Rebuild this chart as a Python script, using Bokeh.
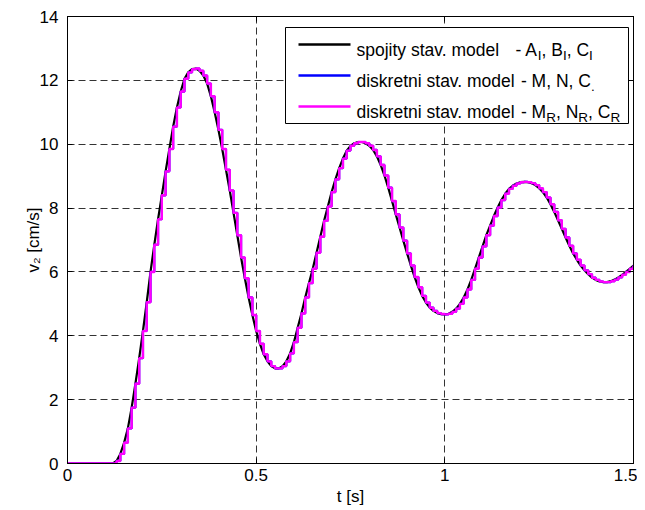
from bokeh.plotting import figure
from bokeh.models import LinearAxis, FixedTicker, BoxAnnotation, Arrow, Label, Range1d
from bokeh.embed import file_html
from bokeh.resources import INLINE

# ---------------- data ----------------
v2 = [0, 0, 0, 0, 0, 0, 0, 0, 0, 0, 0, 0, 0,
      0.08, 0.3, 0.65, 1.1, 1.75, 2.5, 3.3, 4.15, 5.05, 6.0,
      6.85, 7.65, 8.4, 9.15, 9.85, 10.55, 11.15, 11.65, 12.05, 12.25,
      12.35, 12.37, 12.3, 12.15, 11.9, 11.5, 11.0, 10.45, 9.85, 9.2,
      8.55, 7.85, 7.15, 6.45, 5.8, 5.2, 4.65, 4.15, 3.75, 3.42,
      3.2, 3.05, 2.98, 2.98, 3.05, 3.2, 3.45, 3.8, 4.25, 4.7,
      5.2, 5.65, 6.1, 6.6, 7.1, 7.6, 8.05, 8.5, 8.9, 9.25,
      9.55, 9.8, 9.95, 10.03, 10.07, 10.07, 10.03, 9.95, 9.82, 9.62,
      9.35, 9.02, 8.64, 8.22, 7.8, 7.39, 6.98, 6.58, 6.2, 5.84,
      5.52, 5.25, 5.04, 4.88, 4.78, 4.71, 4.68, 4.67, 4.69, 4.75,
      4.85, 5.0, 5.2, 5.45, 5.75, 6.1, 6.45, 6.8, 7.15, 7.45,
      7.75, 8.02, 8.25, 8.45, 8.6, 8.7, 8.77, 8.81, 8.82, 8.81,
      8.78, 8.72, 8.62, 8.5, 8.33, 8.12, 7.88, 7.62, 7.35, 7.08,
      6.82, 6.58, 6.38, 6.2, 6.05, 5.93, 5.82, 5.75, 5.7, 5.68,
      5.68, 5.71, 5.76, 5.83, 5.91, 6.0, 6.1, 6.2]
sample_period = 0.01
t = [round(i * sample_period, 2) for i in range(len(v2))]

x_ticks = [0, 0.5, 1, 1.5]
x_tick_labels = ["0", "0.5", "1", "1.5"]
y_ticks = [0, 2, 4, 6, 8, 10, 12, 14]
y_tick_labels = ["0", "2", "4", "6", "8", "10", "12", "14"]

series_names = ["spojity stav. model", "diskretni stav. model", "diskretni stav. model"]
series_colors = ["#000000", "#0000ff", "#ff00ff"]

# ---------------- figure ----------------
FW, FH = 566, 447
X0, X1, Y0, Y1 = 0, 1.5, 0, 14
FONT = "Liberation Sans"
FS = 17

p = figure(frame_width=FW, frame_height=FH, x_range=Range1d(X0, X1), y_range=Range1d(Y0, Y1),
           output_backend="svg", toolbar_location=None,
           min_border_left=67, min_border_right=4, min_border_top=16, min_border_bottom=38)
p.background_fill_color = "white"
p.border_fill_color = "white"
p.outline_line_color = "black"
p.outline_line_width = 1

for ax, ticks, labels in ((p.xaxis[0], x_ticks, x_tick_labels), (p.yaxis[0], y_ticks, y_tick_labels)):
    ax.ticker = FixedTicker(ticks=ticks)
    ax.major_label_overrides = {tk: lb for tk, lb in zip(ticks, labels)}
    ax.major_tick_in = 5
    ax.major_tick_out = 0
    ax.minor_tick_in = 0
    ax.minor_tick_out = 0
    ax.axis_line_color = "black"
    ax.major_tick_line_color = "black"
    ax.major_label_text_font = FONT
    ax.major_label_text_font_size = f"{FS}px"
    ax.major_label_text_color = "black"
    ax.axis_label_text_font = FONT
    ax.axis_label_text_font_size = f"{FS}px"
    ax.axis_label_text_font_style = "normal"
    ax.axis_label_text_color = "black"

p.xaxis[0].axis_label = "t [s]"
p.xaxis[0].major_label_standoff = 5
p.xaxis[0].axis_label_standoff = 3
p.yaxis[0].axis_label = "v\u2082 [cm/s]"
p.yaxis[0].major_label_standoff = 9
p.yaxis[0].axis_label_standoff = -6

for loc, ticks in (("above", x_ticks), ("right", y_ticks)):
    ax = LinearAxis(ticker=FixedTicker(ticks=ticks), major_label_text_font_size="0px",
                    major_label_standoff=0, major_tick_in=5, major_tick_out=0,
                    minor_tick_in=0, minor_tick_out=0, axis_line_color="black",
                    major_label_overrides={tk: "" for tk in ticks})
    p.add_layout(ax, loc)

p.xgrid.ticker = FixedTicker(ticks=x_ticks)
p.ygrid.ticker = FixedTicker(ticks=y_ticks)
for g in (p.xgrid[0], p.ygrid[0]):
    g.grid_line_color = "black"
    g.grid_line_alpha = 0.8
    g.grid_line_dash = "7 4"
    g.grid_line_width = 1

# ---------------- series ----------------
p.line(t, v2, line_color=series_colors[0], line_width=2.2)
p.step(t, v2, mode="after", line_color=series_colors[1], line_width=2.2)
p.step(t, v2, mode="after", line_color=series_colors[2], line_width=2.4)

# ---------------- manual legend (subscripts) ----------------
def dx(px):
    return px * (X1 - X0) / FW

def xd(px):  # reference-image x pixel -> data
    return X0 + dx(px - 67)

def yd(py):  # reference-image y pixel -> data
    return Y0 + (464 - py) * (Y1 - Y0) / FH

ARIAL = {' ': 278, ',': 278, '-': 333, '.': 278, 'A': 667, 'B': 667, 'C': 722, 'I': 278,
         'M': 833, 'N': 722, 'R': 722, 'a': 556, 'd': 556, 'e': 556, 'i': 222, 'j': 222,
         'k': 500, 'l': 222, 'm': 833, 'n': 556, 'o': 556, 'p': 556, 'r': 333, 's': 500,
         't': 278, 'v': 500, 'y': 500}

def width(s, size):
    return sum(ARIAL.get(c, 556) for c in s) * size / 1000.0

LFS = 17.5
SFS = 13.5
p.add_layout(BoxAnnotation(left=xd(285), right=xd(628), top=yd(28), bottom=yd(124),
                           fill_color="white", fill_alpha=1, line_color="black", line_width=1,
                           line_alpha=1))

rows = [
    (45, [(series_names[0], False, 0), ("- A", False, 15), ("I", True, 0), (", B", False, 0),
          ("I", True, 0), (", C", False, 0), ("I", True, 0)]),
    (76, [(series_names[1], False, 0), ("- M, N, C", False, 4.9), (".", True, 0)]),
    (107, [(series_names[2], False, 0), ("- M", False, 4.9), ("R", True, 0), (", N", False, 0),
           ("R", True, 0), (", C", False, 0), ("R", True, 0)]),
]
for (ry, pieces), col in zip(rows, series_colors):
    p.add_layout(Arrow(end=None, x_start=xd(298), y_start=yd(ry), x_end=xd(350), y_end=yd(ry),
                       line_color=col, line_width=2.4))
    cx = 356.0
    for txt, sub, gap in pieces:
        cx += gap
        size = SFS if sub else LFS
        base = ry + 5.5 + (5 if sub else 0)
        p.add_layout(Label(x=xd(cx), y=yd(base), text=txt, text_font=FONT,
                           text_font_size=f"{size}px", text_baseline="alphabetic",
                           text_align="left", text_color="black"))
        cx += width(txt, size)

open("out.html", "w").write(file_html(p, INLINE))
